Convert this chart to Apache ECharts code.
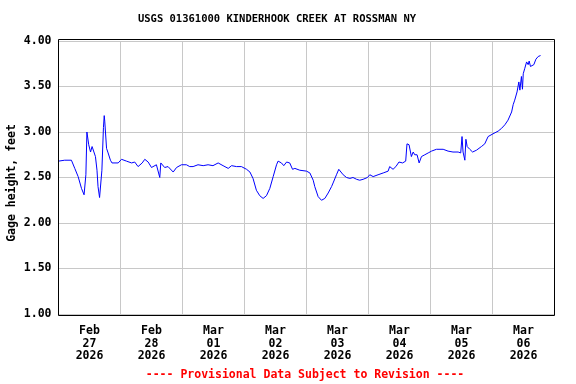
<!DOCTYPE html>
<html>
<head>
<meta charset="utf-8">
<script src="https://cdn.jsdelivr.net/npm/echarts@6/dist/echarts.min.js"></script>
<style>html,body{margin:0;padding:0;background:#fff}#c{width:576px;height:384px}</style>
</head>
<body>
<div id="c"></div>
<script>
// hours since Feb 27 2026 00:00
const hours = [0,2.4,5.0,6.3,7.6,8.9,9.9,10.6,11.0,11.2,11.7,12.4,13.0,13.7,14.3,14.9,15.3,15.9,16.5,16.8,17.4,17.7,17.9,18.6,19.2,20.1,20.7,23.1,24.4,26.3,28.3,29.5,30.8,32.4,33.4,34.7,36.0,37.9,38.6,39.2,39.6,41.1,42.4,43.1,44.4,45.7,47.6,49.5,50.8,52.1,54.0,56.0,57.9,59.8,61.8,63.7,65.7,67.0,68.9,70.8,72.8,74.1,75.3,76.6,77.9,79.2,80.5,81.8,83.1,84.4,85.0,86.3,87.2,88.3,89.5,90.6,91.5,93.4,96.0,97.3,98.6,99.2,100.5,101.8,103.1,104.4,105.7,106.3,107.6,108.5,109.2,110.2,111.5,112.8,114.0,115.4,116.6,117.9,119.6,120.5,121.8,123.7,125.7,127.6,128.2,129.5,130.6,131.8,133.2,134.4,134.9,135.7,136.6,137.3,137.9,138.8,139.6,140.5,141.8,143.1,144.4,146.3,148.9,150.8,152.7,154.7,155.7,156.2,156.6,157.3,157.7,158.2,159.2,160.3,161.8,163.7,165.0,166.3,168.2,170.2,171.5,172.8,174.0,175.4,176.0,176.6,177.5,178.2,178.6,179.2,179.6,179.9,180.5,181.2,181.8,182.2,182.7,183.3,184.0,184.8,185.7,186.6];
const gage = [2.68,2.69,2.69,2.60,2.51,2.38,2.31,2.53,3.00,3.02,2.86,2.78,2.84,2.82,2.73,2.58,2.40,2.28,2.28,2.58,3.05,3.18,3.12,2.82,2.77,2.69,2.66,2.66,2.70,2.68,2.66,2.67,2.62,2.66,2.70,2.67,2.61,2.64,2.66,2.50,2.66,2.61,2.62,2.64,2.56,2.61,2.64,2.64,2.62,2.62,2.64,2.63,2.64,2.63,2.66,2.63,2.60,2.63,2.62,2.62,2.59,2.56,2.49,2.36,2.30,2.27,2.30,2.38,2.51,2.64,2.68,2.66,2.63,2.67,2.66,2.59,2.60,2.58,2.57,2.55,2.47,2.40,2.29,2.25,2.27,2.33,2.40,2.44,2.53,2.59,2.58,2.53,2.50,2.49,2.50,2.48,2.47,2.48,2.50,2.53,2.51,2.53,2.55,2.57,2.62,2.59,2.62,2.67,2.66,2.68,2.87,2.86,2.73,2.78,2.75,2.75,2.66,2.73,2.75,2.77,2.79,2.81,2.81,2.79,2.78,2.78,2.77,2.95,2.78,2.69,2.92,2.84,2.81,2.78,2.80,2.84,2.87,2.95,2.98,3.01,3.04,3.08,3.13,3.22,3.30,3.35,3.44,3.55,3.46,3.61,3.47,3.64,3.70,3.77,3.74,3.78,3.72,3.71,3.74,3.80,3.83,3.84];
const dayLabels = ['Feb\n27\n2026','Feb\n28\n2026','Mar\n01\n2026','Mar\n02\n2026','Mar\n03\n2026','Mar\n04\n2026','Mar\n05\n2026','Mar\n06\n2026'];
const labelHours = [12,36,60,84,108,132,156,180];
const titleText = 'USGS 01361000 KINDERHOOK CREEK AT ROSSMAN NY';
const yName = 'Gage height, feet';
const footer = '---- Provisional Data Subject to Revision ----';

const FONT = '"DejaVu Sans Mono", "Liberation Mono", monospace';
const chart = echarts.init(document.getElementById('c'), null, {renderer: 'canvas'});
const data = hours.map((h, i) => [h, gage[i]]);
chart.setOption({
  animation: false,
  backgroundColor: '#fff',
  grid: {left: 58.5, top: 41, width: 496, height: 273, containLabel: false},
  xAxis: {
    type: 'value', min: 0, max: 192, interval: 24,
    axisLine: {show: false}, axisTick: {show: false},
    splitLine: {show: true, lineStyle: {color: '#c8c8c8', width: 1}},
    axisLabel: {
      customValues: labelHours,
      formatter: v => dayLabels[Math.round((v - 12) / 24)],
      color: '#000', fontFamily: FONT, fontWeight: 'bold', fontSize: 11.5,
      lineHeight: 12.5, margin: 11
    }
  },
  yAxis: {
    type: 'value', min: 1, max: 4, interval: 0.5,
    axisLine: {show: false}, axisTick: {show: false},
    splitLine: {show: true, lineStyle: {color: '#c8c8c8', width: 1}},
    axisLabel: {
      formatter: v => v.toFixed(2),
      color: '#000', fontFamily: FONT, fontWeight: 'bold', fontSize: 11.5, margin: 7
    }
  },
  series: [{
    type: 'line', data: data, showSymbol: false, symbol: 'none',
    lineStyle: {color: '#0000ff', width: 1}, clip: false
  }],
  graphic: [
    {type: 'rect', z: 100, silent: true,
     shape: {x: 58.5, y: 39.5, width: 496, height: 276},
     style: {fill: 'none', stroke: '#000', lineWidth: 1}},
    {type: 'text', x: 277, y: 19, z: 100,
     style: {text: titleText, fill: '#000', font: 'bold 10.5px ' + FONT, textAlign: 'center', textVerticalAlign: 'middle'}},
    {type: 'text', x: 12, y: 183, rotation: Math.PI / 2, z: 100,
     style: {text: yName, fill: '#000', font: 'bold 11.5px ' + FONT, textAlign: 'center', textVerticalAlign: 'middle'}},
    {type: 'text', x: 305, y: 375, z: 100,
     style: {text: footer, fill: '#ff0000', font: 'bold 11.5px ' + FONT, textAlign: 'center', textVerticalAlign: 'middle'}}
  ]
});
</script>
</body>
</html>
